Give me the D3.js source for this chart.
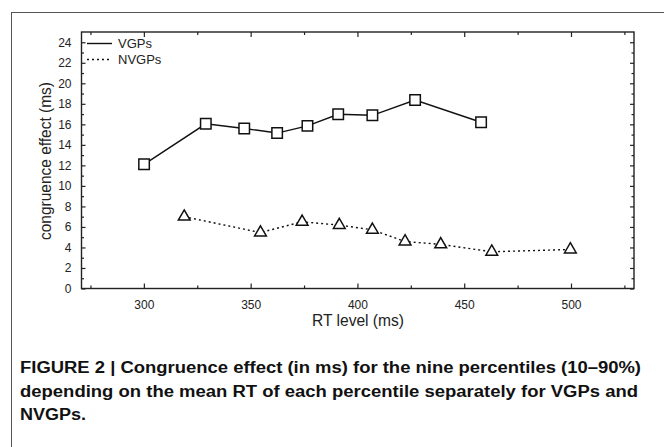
<!DOCTYPE html>
<html><head><meta charset="utf-8">
<script src="https://cdn.jsdelivr.net/npm/d3@7"></script>
<style>body{margin:0;background:#fff}svg{display:block}</style>
</head><body>
<script>
const vgpRT = [300.1, 329, 347, 362.4, 376.6, 391, 407, 427, 457.9];
const vgpEffect = [12.1, 16.05, 15.6, 15.15, 15.85, 16.98, 16.88, 18.37, 16.2];
const nvgpRT = [318.9, 354.6, 374.1, 391.5, 407, 422.3, 439, 462.9, 499.7];
const nvgpEffect = [7.0, 5.45, 6.5, 6.18, 5.72, 4.58, 4.3, 3.58, 3.8];
const xTicks = [300, 350, 400, 450, 500];
const yTicks = [0, 2, 4, 6, 8, 10, 12, 14, 16, 18, 20, 22, 24];
const captionLines = [
  "FIGURE 2 | Congruence effect (in ms) for the nine percentiles (10\u201390%)",
  "depending on the mean RT of each percentile separately for VGPs and",
  "NVGPs."
];

const W = 664, H = 447;
const L = 81.5, R = 634, T = 32, B = 288.5;
const svg = d3.select("body").append("svg").attr("width", W).attr("height", H);
svg.append("rect").attr("x", 11.5).attr("y", 12.5).attr("width", 700).attr("height", 500)
  .attr("fill", "none").attr("stroke", "#555").attr("stroke-width", 1);

const x = d3.scaleLinear().domain([270.8, 529.5]).range([L, R]);
const y = d3.scaleLinear().domain([0, 25]).range([B, T]);
const font = "'Liberation Sans', Arial, sans-serif";

const minorX = d3.range(275, 530, 25).filter(v => !xTicks.includes(v));
const minorY = d3.range(1, 25, 2);

function addAxis(gen, tr) {
  return svg.append("g").attr("transform", tr).call(gen)
    .call(g => g.select(".domain").remove())
    .call(g => g.selectAll("line").attr("stroke", "#222").attr("stroke-width", 1.2))
    .call(g => g.selectAll("text").attr("font-family", font).attr("font-size", 12).attr("fill", "#222"));
}
addAxis(d3.axisBottom(x).tickValues(xTicks).tickSizeInner(-5).tickSizeOuter(0).tickPadding(12), `translate(0,${B})`);
addAxis(d3.axisBottom(x).tickValues(minorX).tickSizeInner(-3).tickSizeOuter(0).tickFormat(""), `translate(0,${B})`);
addAxis(d3.axisTop(x).tickValues(xTicks).tickSizeInner(-5).tickSizeOuter(0).tickFormat(""), `translate(0,${T})`);
addAxis(d3.axisTop(x).tickValues(minorX).tickSizeInner(-3).tickSizeOuter(0).tickFormat(""), `translate(0,${T})`);
addAxis(d3.axisLeft(y).tickValues(yTicks).tickSizeInner(-4).tickSizeOuter(0).tickPadding(10), `translate(${L},0)`);
addAxis(d3.axisLeft(y).tickValues(minorY).tickSizeInner(-2.5).tickSizeOuter(0).tickFormat(""), `translate(${L},0)`);
addAxis(d3.axisRight(y).tickValues(yTicks).tickSizeInner(-4).tickSizeOuter(0).tickFormat(""), `translate(${R},0)`);
addAxis(d3.axisRight(y).tickValues(minorY).tickSizeInner(-2.5).tickSizeOuter(0).tickFormat(""), `translate(${R},0)`);

svg.append("rect").attr("x", L).attr("y", T).attr("width", R - L).attr("height", B - T)
  .attr("fill", "none").attr("stroke", "#222").attr("stroke-width", 1.4);

// axis titles
svg.append("text").attr("x", 358).attr("y", 326).attr("text-anchor", "middle")
  .attr("font-family", font).attr("font-size", 16).attr("fill", "#222")
  .attr("textLength", 92).attr("lengthAdjust", "spacingAndGlyphs").text("RT level (ms)");
svg.append("text").attr("transform", `translate(51,161) rotate(-90)`).attr("text-anchor", "middle")
  .attr("font-family", font).attr("font-size", 16).attr("fill", "#222")
  .attr("textLength", 158).attr("lengthAdjust", "spacingAndGlyphs").text("congruence effect (ms)");

// lines
const vgp = vgpRT.map((d, i) => [d, vgpEffect[i]]);
const nvgp = nvgpRT.map((d, i) => [d, nvgpEffect[i]]);
const line = d3.line().x(d => x(d[0])).y(d => y(d[1]));
svg.append("path").attr("d", line(vgp)).attr("fill", "none").attr("stroke", "#111").attr("stroke-width", 1.4);
svg.append("path").attr("d", line(nvgp)).attr("fill", "none").attr("stroke", "#111").attr("stroke-width", 1.4)
  .attr("stroke-dasharray", "2,3");

const sq = d3.symbol().type(d3.symbolSquare).size(110);
const tri = d3.symbol().type(d3.symbolTriangle).size(60);
svg.append("g").selectAll("path").data(vgp).join("path")
  .attr("transform", d => `translate(${x(d[0])},${y(d[1])})`).attr("d", sq)
  .attr("fill", "#fff").attr("stroke", "#111").attr("stroke-width", 1.5);
svg.append("g").selectAll("path").data(nvgp).join("path")
  .attr("transform", d => `translate(${x(d[0])},${y(d[1])})`).attr("d", tri)
  .attr("fill", "#fff").attr("stroke", "#111").attr("stroke-width", 1.5);

// legend
const lg = svg.append("g").attr("font-family", font).attr("font-size", 13).attr("fill", "#222");
lg.append("line").attr("x1", 87).attr("x2", 112).attr("y1", 43.5).attr("y2", 43.5).attr("stroke", "#111").attr("stroke-width", 1.4);
lg.append("text").attr("x", 118).attr("y", 48).text("VGPs");
lg.append("line").attr("x1", 87).attr("x2", 112).attr("y1", 59.5).attr("y2", 59.5).attr("stroke", "#111").attr("stroke-width", 1.4).attr("stroke-dasharray", "2,3");
lg.append("text").attr("x", 118).attr("y", 64).text("NVGPs");

// caption
const cap = svg.append("g").attr("font-family", font).attr("font-size", 16).attr("font-weight", "bold").attr("fill", "#111");
const capW = [621, 618, 66];
captionLines.forEach((t, i) => {
  cap.append("text").attr("x", 20).attr("y", 373 + i * 23.5).text(t)
    .attr("textLength", capW[i]).attr("lengthAdjust", "spacingAndGlyphs");
});
</script>
</body></html>
